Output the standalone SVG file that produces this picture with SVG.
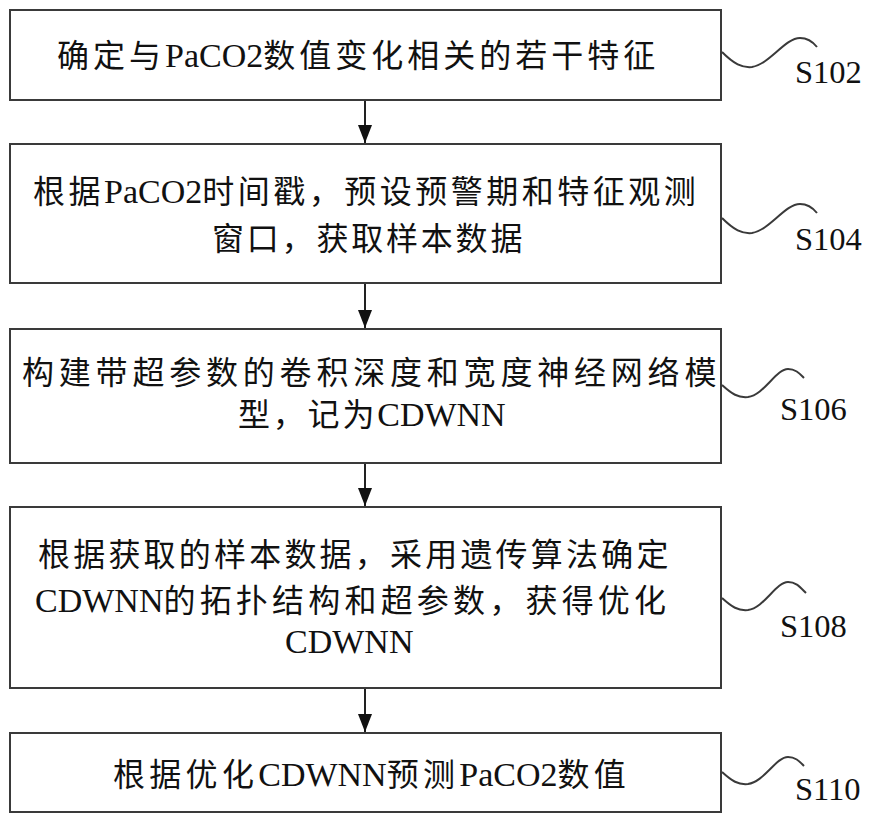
<svg xmlns="http://www.w3.org/2000/svg" width="884" height="822" viewBox="0 0 884 822">
<style>
.box{fill:#ffffff;stroke:#3a3a3a;stroke-width:2}
.t{font-family:"Liberation Serif","Noto Sans CJK SC",serif;font-size:32px;fill:#111}
.la{font-family:"Liberation Serif",serif;font-size:34px;letter-spacing:0}
.lbl{font-family:"Liberation Serif",serif;font-size:32.5px;fill:#111}
.wave{fill:none;stroke:#3a3a3a;stroke-width:2}
.conn{stroke:#222;stroke-width:2;fill:none}
</style>
<defs>
<marker id="ah" markerWidth="18" markerHeight="14" refX="18" refY="7" orient="auto" markerUnits="userSpaceOnUse" viewBox="0 0 18 14">
<path d="M0,0 L18,7 L0,14 Z" fill="#111"/>
</marker>
</defs>
<rect width="884" height="822" fill="#ffffff"/>
<g id="connectors">
<line class="conn" x1="365" y1="101" x2="365" y2="143" marker-end="url(#ah)"/>
<line class="conn" x1="365" y1="284" x2="365" y2="328" marker-end="url(#ah)"/>
<line class="conn" x1="365" y1="464" x2="365" y2="506" marker-end="url(#ah)"/>
<line class="conn" x1="365" y1="689" x2="365" y2="732" marker-end="url(#ah)"/>
</g>
<g id="S102">
<rect class="box" x="10" y="10" width="711" height="90"/>
<text class="t" x="57" y="67" style="letter-spacing:4px">确定与<tspan class="la">PaCO2</tspan>数值变化相关的若干特征</text>
<path class="wave" d="M722,52 C734,64 742,68 752,67 C770,64 785,38 800,38 C808,38 813,42 817,47"/>
<text class="lbl" x="795" y="83">S102</text>
</g>
<g id="S104">
<rect class="box" x="10" y="144" width="711" height="139"/>
<text class="t" x="33" y="203" style="letter-spacing:3.5px">根据<tspan class="la">PaCO2</tspan>时间戳，预设预警期和特征观测</text>
<text class="t" x="212" y="250" style="letter-spacing:2.8px">窗口，获取样本数据</text>
<path class="wave" d="M722,218 C734,230 742,234 752,233 C770,230 785,204 800,204 C808,204 813,208 817,213"/>
<text class="lbl" x="795" y="250">S104</text>
</g>
<g id="S106">
<rect class="box" x="10" y="329" width="711" height="134"/>
<text class="t" x="22" y="384" style="letter-spacing:4.8px">构建带超参数的卷积深度和宽度神经网络模</text>
<text class="t" x="238" y="426" style="letter-spacing:2.8px">型，记为<tspan class="la">CDWNN</tspan></text>
<path class="wave" d="M722,385 C732,394 738,398 748,397 C764,395 776,369 788,369 C796,369 800,374 804,378"/>
<text class="lbl" x="780" y="420">S106</text>
</g>
<g id="S108">
<rect class="box" x="10" y="507" width="711" height="181"/>
<text class="t" x="38" y="566" style="letter-spacing:3.2px">根据获取的样本数据，采用遗传算法确定</text>
<text class="t" x="35" y="612" style="letter-spacing:4.2px"><tspan class="la">CDWNN</tspan>的拓扑结构和超参数，获得优化</text>
<text class="t" x="285" y="653"><tspan class="la">CDWNN</tspan></text>
<path class="wave" d="M722,598 C732,607 738,611 748,610 C764,608 776,582 788,582 C796,582 800,587 806,593"/>
<text class="lbl" x="780" y="637">S108</text>
</g>
<g id="S110">
<rect class="box" x="10" y="733" width="711" height="79"/>
<text class="t" x="113" y="786" style="letter-spacing:4.3px">根据优化<tspan class="la">CDWNN</tspan>预测<tspan class="la">PaCO2</tspan>数值</text>
<path class="wave" d="M722,772 C732,781 738,785 748,784 C764,782 776,757 788,757 C796,757 800,762 804,766"/>
<text class="lbl" x="795" y="800">S110</text>
</g>
</svg>
